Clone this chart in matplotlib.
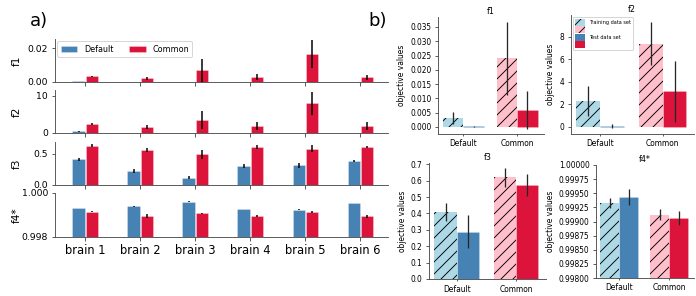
import numpy as np
import matplotlib
matplotlib.use("Agg")
import matplotlib.pyplot as plt
from matplotlib.patches import Patch
from matplotlib.ticker import FormatStrFormatter

# ---------------- data: panel a ----------------
brains = ["brain 1", "brain 2", "brain 3", "brain 4", "brain 5", "brain 6"]
a_metrics = ["f1", "f2", "f3", "f4*"]

f1_default = [0.0004, 0.0, 0.0, 0.0, 0.0, 0.0]
f1_default_err = [0.0001, 0.0, 0.0, 0.0, 0.0, 0.0]
f1_common = [0.0034, 0.0022, 0.0068, 0.0030, 0.0164, 0.0028]
f1_common_err = [0.0004, 0.0008, 0.0068, 0.0020, 0.0082, 0.0014]

f2_default = [0.44, 0.03, 0.03, 0.03, 0.03, 0.03]
f2_default_err = [0.05, 0.0, 0.0, 0.0, 0.0, 0.0]
f2_common = [2.4, 1.7, 3.5, 1.95, 7.9, 1.86]
f2_common_err = [0.2, 0.5, 2.4, 1.1, 3.0, 1.0]

f3_default = [0.41, 0.22, 0.12, 0.30, 0.32, 0.385]
f3_default_err = [0.02, 0.03, 0.03, 0.03, 0.04, 0.01]
f3_common = [0.63, 0.56, 0.49, 0.61, 0.585, 0.61]
f3_common_err = [0.02, 0.03, 0.07, 0.03, 0.05, 0.015]

f4_default = [0.99931, 0.99940, 0.99960, 0.99926, 0.99925, 0.99955]
f4_default_err = [0.00001, 0.00003, 0.00002, 0.00001, 0.00001, 0.00001]
f4_common = [0.99915, 0.99895, 0.99908, 0.99895, 0.99914, 0.99895]
f4_common_err = [0.00002, 0.00008, 0.00003, 0.00004, 0.00003, 0.00007]

# ---------------- data: panel b ----------------
b_groups = ["Default", "Common"]
b_titles = ["f1", "f2", "f3", "f4*"]

b_f1_train = [0.0033, 0.0240]
b_f1_train_err = [0.0021, 0.0127]
b_f1_test = [0.0002, 0.0060]
b_f1_test_err = [0.0002, 0.0066]

b_f2_train = [2.3, 7.38]
b_f2_train_err = [1.35, 1.9]
b_f2_test = [0.09, 3.18]
b_f2_test_err = [0.15, 2.7]

b_f3_train = [0.41, 0.62]
b_f3_train_err = [0.053, 0.058]
b_f3_test = [0.288, 0.574]
b_f3_test_err = [0.10, 0.065]

b_f4_train = [0.99933, 0.99912]
b_f4_train_err = [0.00009, 0.00010]
b_f4_test = [0.99943, 0.99906]
b_f4_test_err = [0.00014, 0.00013]

# ---------------- styling ----------------
W, H = 696, 296
DPI = 72
fig = plt.figure(figsize=(W / DPI, H / DPI), dpi=DPI)
plt.rcParams["hatch.linewidth"] = 0.9

C_DEF = "#4682B4"
C_COM = "#DC143C"
C_DEF_L = "#ADD8E6"
C_COM_L = "#FFC0CB"
SPINE = "0.3"


def rect(l, t, r, b):
    return [l / W, 1 - b / H, (r - l) / W, (b - t) / H]


def style_ax(ax):
    for s in ["top", "right"]:
        ax.spines[s].set_visible(False)
    for s in ["left", "bottom"]:
        ax.spines[s].set_color(SPINE)
        ax.spines[s].set_linewidth(0.9)
    ax.tick_params(colors=SPINE, labelcolor="black", width=0.9)


# ---------------- panel a ----------------
a_rects = [(55, 39, 388, 82), (55, 90, 388, 133), (55, 142, 388, 185), (55, 193, 388, 237)]
a_data = [
    (f1_default, f1_default_err, f1_common, f1_common_err, (0, 0.0254), [0, 0.02], "%.2f"),
    (f2_default, f2_default_err, f2_common, f2_common_err, (0, 11.5), [0, 10], "%d"),
    (f3_default, f3_default_err, f3_common, f3_common_err, (0, 0.69), [0.0, 0.5], "%.1f"),
    (f4_default, f4_default_err, f4_common, f4_common_err, (0.998, 1.000), [0.998, 1.000], "%.3f"),
]
x = np.arange(len(brains))
bw = 0.23
edge = (1, 1, 1, 0.35)
a_axes = []
for i, (r, (dv, de, cv, ce, yl, yt, fmt)) in enumerate(zip(a_rects, a_data)):
    ax = fig.add_axes(rect(*r))
    a_axes.append(ax)
    ax.bar(x - 0.12, dv, bw, color=C_DEF, edgecolor=edge, linewidth=0.8, label="Default")
    ax.bar(x + 0.12, cv, bw, color=C_COM, edgecolor=edge, linewidth=0.8, label="Common")
    ax.errorbar(x - 0.12, dv, yerr=de, fmt="none", ecolor="black", elinewidth=1.5, capsize=0)
    ax.errorbar(x + 0.12, cv, yerr=ce, fmt="none", ecolor="black", elinewidth=1.5, capsize=0)
    style_ax(ax)
    ax.set_xlim(-0.55, 5.5)
    ax.set_ylim(*yl)
    ax.set_yticks(yt)
    ax.yaxis.set_major_formatter(FormatStrFormatter(fmt))
    ax.tick_params(axis="y", labelsize=9.3)
    ax.set_xticks(x)
    ax.set_ylabel(a_metrics[i], fontsize=10.5)
    if i < 3:
        ax.set_xticklabels([])
    else:
        ax.set_xticklabels(brains, fontsize=11.5)
    if i == 0:
        ax.legend(loc="upper left", ncol=2, fontsize=8, frameon=True,
                  borderaxespad=0.3, handlelength=2.1, columnspacing=2.0)

for ax in a_axes:
    ax.yaxis.set_label_coords(-0.1, 0.5)

fig.text(30 / W, 1 - 26 / H, "a)", fontsize=18)
fig.text(368 / W, 1 - 26 / H, "b)", fontsize=18)

# ---------------- panel b ----------------
b_rects = [(438, 17, 544, 134), (570.5, 15, 694, 134), (429, 163, 545.6, 279), (596, 165, 694, 278)]
b_data = [
    (b_f1_train, b_f1_train_err, b_f1_test, b_f1_test_err, (-0.00245, 0.0385),
     np.arange(0, 0.0351, 0.005), "%.3f"),
    (b_f2_train, b_f2_train_err, b_f2_test, b_f2_test_err, (-0.62, 9.92),
     [0, 2, 4, 6, 8], "%d"),
    (b_f3_train, b_f3_train_err, b_f3_test, b_f3_test_err, (0, 0.708),
     np.arange(0, 0.71, 0.1), "%.1f"),
    (b_f4_train, b_f4_train_err, b_f4_test, b_f4_test_err, (0.998, 1.0),
     np.linspace(0.998, 1.0, 9), "%.5f"),
]
gx = np.arange(len(b_groups))
bbw = 0.38
light = [C_DEF_L, C_COM_L]
dark = [C_DEF, C_COM]
for i, (r, (tv, te, sv, se, yl, yt, fmt)) in enumerate(zip(b_rects, b_data)):
    ax = fig.add_axes(rect(*r))
    ax.bar(gx - 0.19, tv, bbw, color=light, hatch="//", linewidth=0)
    ax.bar(gx + 0.19, sv, bbw, color=dark, edgecolor=(1, 1, 1, 0.3), linewidth=0.6)
    ax.errorbar(gx - 0.19, tv, yerr=te, fmt="none", ecolor="0.15", elinewidth=1.3, capsize=0)
    ax.errorbar(gx + 0.19, sv, yerr=se, fmt="none", ecolor="0.15", elinewidth=1.3, capsize=0)
    style_ax(ax)
    ax.set_xlim(-0.47, 1.5)
    ax.set_ylim(*yl)
    ax.set_yticks(yt)
    ax.yaxis.set_major_formatter(FormatStrFormatter(fmt))
    ax.set_xticks(gx)
    ax.set_xticklabels(b_groups)
    ax.tick_params(axis="both", labelsize=7.5, length=3)
    ax.tick_params(axis="x", length=2)
    ax.set_ylabel("objective values", fontsize=7.5)
    ax.set_title(b_titles[i], fontsize=8, pad=3)
    if i == 1:
        handles = [Patch(facecolor=C_DEF_L, hatch="//"),
                   Patch(facecolor=C_COM_L, hatch="//"),
                   Patch(facecolor=C_DEF),
                   Patch(facecolor=C_COM)]
        ax.legend(handles, ["Training data set", "", "Test data set", ""],
                  loc="upper left", fontsize=5, handleheight=1.8, handlelength=2.1,
                  labelspacing=0.05, borderaxespad=0.4, frameon=True)

fig.savefig("out.png", dpi=DPI)
